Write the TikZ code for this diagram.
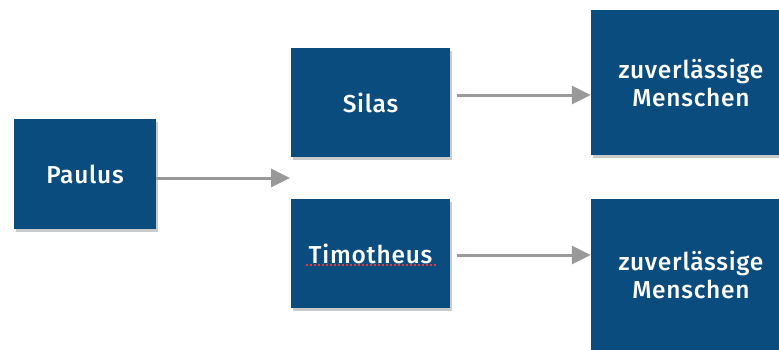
\documentclass[tikz,border=0pt]{standalone}
\usepackage{fontspec}
\setmainfont{Fira Sans}[BoldFont={Fira Sans Medium}, LetterSpace=3]
\usetikzlibrary{arrows.meta,shadows}
\definecolor{boxblue}{HTML}{0B4C7E}
\definecolor{arrowgray}{HTML}{999999}
\definecolor{spellred}{HTML}{E03C3C}
\tikzset{
  personbox/.style={fill=boxblue, text=white, draw=none, inner sep=0pt,
    font=\fontsize{24.5}{28}\selectfont\bfseries, align=center,
    drop shadow={shadow xshift=2pt, shadow yshift=-3pt, opacity=0.35, fill=black!60}},
  flow/.style={draw=arrowgray, line width=3pt,
    -{Triangle[length=19pt,width=18pt]}},
}
\begin{document}
\begin{tikzpicture}[x=1pt,y=-1pt]
  \useasboundingbox (0,0) rectangle (779,349);
  \clip (0,0) rectangle (779,349);
  % persons
  \node[personbox, minimum width=142pt, minimum height=110pt] (paulus) at (85,174) {Paulus};
  \node[personbox, minimum width=159pt, minimum height=109pt] (silas) at (370.5,102.5) {Silas};
  \node[personbox, minimum width=159pt, minimum height=109pt] (timo) at (370.5,253.5) {Timotheus};
  \node[personbox, minimum width=200pt, minimum height=145pt] (zm1) at (691,82.5) {zuverlässige\\Menschen};
  \node[personbox, minimum width=200pt, minimum height=152pt] (zm2) at (691,275) {zuverlässige\\Menschen};
  % spell-check underline
  \coordinate (ulA) at (306,264.5);
  \coordinate (ulB) at (437,264.5);
  \draw[spellred, line width=2pt, dash pattern=on 2.2pt off 1.8pt] (ulA) -- (ulB);
  % connectors
  \coordinate (split) at (290,178);
  \draw[flow] (paulus.east |- split) -- (split);
  \draw[flow] ([xshift=7pt]silas.east |- 0,95) -- (zm1.west |- 0,95);
  \draw[flow] ([xshift=7pt]timo.east |- 0,255) -- (zm2.west |- 0,255);
\end{tikzpicture}
\end{document}
